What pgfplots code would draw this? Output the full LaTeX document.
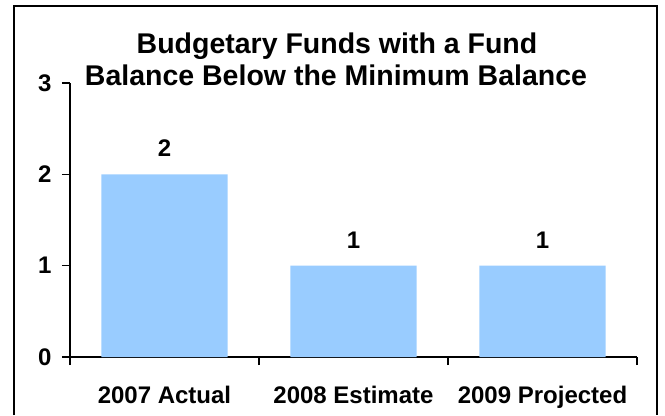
\documentclass[border=0pt]{standalone}
\usepackage{pgfplots}
\pgfplotsset{compat=1.18}
\usepackage{fontspec}
\setmainfont{Liberation Sans}
\definecolor{barblue}{RGB}{153,204,255}
\begin{document}
\begin{tikzpicture}[x=1bp,y=1bp]
    \useasboundingbox (0,0) rectangle (665,415);
    \draw[line width=1.6bp] (14,0) |- (657,409) -- (657,0);
    \node[font=\bfseries\fontsize{28.5bp}{32bp}\selectfont, anchor=base] at (337,362) {Budgetary Funds with a Fund};
    \node[font=\bfseries\fontsize{28.5bp}{32bp}\selectfont, anchor=base] at (336,330) {Balance Below the Minimum Balance};
    \begin{axis}[
        at={(70bp,58bp)},
        anchor=south west,
        scale only axis,
        width=567bp,
        height=274bp,
        ybar,
        bar width=0.667,
        xmin=-0.5, xmax=2.5,
        ymin=0, ymax=3,
        axis x line=bottom,
        axis y line=left,
        axis line style={line width=1.2bp, -},
        xtick={0,1,2},
        xticklabels={2007 Actual, 2008 Estimate, 2009 Projected},
        minor xtick={-0.5,0.5,1.5,2.5},
        ytick={0,1,2,3},
        major x tick style={draw=none},
        tick style={line width=1.2bp, black},
        tick align=outside,
        major tick length=8bp,
        minor tick length=8bp,
        every tick label/.append style={font=\bfseries\fontsize{24bp}{28bp}\selectfont},
        xticklabel style={yshift=-18bp},
        yticklabel style={xshift=-7bp},
        /pgf/number format/assume math mode=true,
        nodes near coords,
        every node near coord/.append style={font=\bfseries\fontsize{24bp}{28bp}\selectfont, black, yshift=14bp},
    ]
    \addplot[fill=barblue, draw=none] coordinates {(0,2) (1,1) (2,1)};
    \end{axis}
\end{tikzpicture}
\end{document}
